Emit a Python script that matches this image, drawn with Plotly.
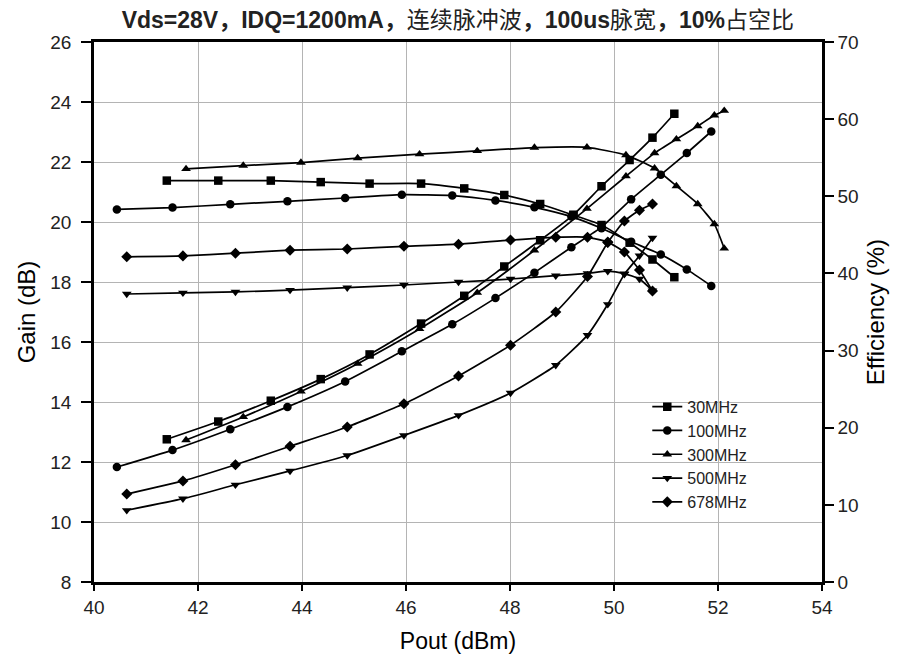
import plotly.graph_objects as go

# ---------------- data ----------------
labels = ["30MHz", "100MHz", "300MHz", "500MHz", "678MHz"]
symbols = ["square", "circle", "triangle-up", "triangle-down", "diamond"]

pout_30 = [41.40, 42.39, 43.40, 44.36, 45.30, 46.29, 47.12, 47.89, 48.58, 49.22, 49.76, 50.30, 50.74, 51.16]
gain_30 = [21.38, 21.38, 21.38, 21.33, 21.28, 21.28, 21.12, 20.90, 20.60, 20.23, 19.90, 19.31, 18.75, 18.16]
eff_30 = [18.5, 20.8, 23.5, 26.3, 29.5, 33.5, 37.1, 40.9, 44.3, 47.6, 51.3, 54.7, 57.6, 60.7]

pout_100 = [40.44, 41.51, 42.62, 43.72, 44.83, 45.92, 46.89, 47.72, 48.47, 49.18, 49.76, 50.33, 50.90, 51.40, 51.87]
gain_100 = [20.42, 20.48, 20.59, 20.69, 20.80, 20.91, 20.88, 20.72, 20.49, 20.18, 19.79, 19.34, 18.92, 18.42, 17.87]
eff_100 = [14.9, 17.1, 19.8, 22.7, 26.0, 29.9, 33.4, 36.8, 40.1, 43.4, 46.0, 49.6, 52.8, 55.6, 58.4]

pout_300 = [41.77, 42.87, 43.98, 45.07, 46.26, 47.37, 48.47, 49.48, 50.23, 50.78, 51.20, 51.61, 51.93, 52.12]
gain_300 = [21.77, 21.88, 21.98, 22.13, 22.26, 22.37, 22.48, 22.49, 22.23, 21.79, 21.20, 20.60, 19.93, 19.12]
eff_300 = [18.4, 21.4, 24.7, 28.3, 32.8, 37.5, 43.0, 48.4, 52.6, 55.6, 57.4, 59.1, 60.5, 61.1]

pout_500 = [40.63, 41.71, 42.72, 43.77, 44.87, 45.96, 47.01, 48.01, 48.88, 49.49, 49.88, 50.20, 50.49, 50.74]
gain_500 = [17.60, 17.64, 17.67, 17.73, 17.81, 17.90, 18.00, 18.10, 18.21, 18.29, 18.36, 18.28, 18.10, 17.71]
eff_500 = [9.3, 10.8, 12.6, 14.4, 16.4, 19.0, 21.6, 24.5, 28.1, 32.0, 36.0, 39.9, 42.3, 44.6]

pout_678 = [40.63, 41.71, 42.72, 43.77, 44.87, 45.96, 47.01, 48.01, 48.88, 49.49, 49.88, 50.20, 50.49, 50.74]
gain_678 = [18.84, 18.87, 18.96, 19.06, 19.10, 19.19, 19.26, 19.40, 19.49, 19.49, 19.33, 19.00, 18.40, 17.70]
eff_678 = [11.4, 13.1, 15.2, 17.6, 20.1, 23.1, 26.7, 30.7, 35.0, 39.6, 44.0, 46.8, 48.2, 49.0]

pouts = [pout_30, pout_100, pout_300, pout_500, pout_678]
gains = [gain_30, gain_100, gain_300, gain_500, gain_678]
effs = [eff_30, eff_100, eff_300, eff_500, eff_678]

x_ticks = [40, 42, 44, 46, 48, 50, 52, 54]
gain_ticks = [8, 10, 12, 14, 16, 18, 20, 22, 24, 26]
eff_ticks = [0, 10, 20, 30, 40, 50, 60, 70]

title_text = ("<b>Vds=28V，IDQ=1200mA，</b>连续脉冲波<b>，100us</b>脉宽"
              "<b>，10%</b>占空比")

# ---------------- figure ----------------
FONT = "Liberation Sans, Arial, Noto Sans CJK SC, sans-serif"
fig = go.Figure()

for lab, sym, px, g, e in zip(labels, symbols, pouts, gains, effs):
    fig.add_trace(go.Scatter(
        x=px, y=g, name=lab, legendgroup=lab, showlegend=True,
        mode="lines+markers",
        line=dict(color="black", width=1.7, shape="spline", smoothing=0.5),
        marker=dict(symbol=sym, size=8.5, color="black"),
        yaxis="y"))
    fig.add_trace(go.Scatter(
        x=px, y=e, name=lab, legendgroup=lab, showlegend=False,
        mode="lines+markers",
        line=dict(color="black", width=1.7, shape="spline", smoothing=0.5),
        marker=dict(symbol=sym, size=8.5, color="black"),
        yaxis="y2"))

fig.update_layout(
    width=888, height=648,
    margin=dict(l=86, r=74, t=34, b=74, autoexpand=False),
    paper_bgcolor="white", plot_bgcolor="white",
    font=dict(family=FONT, size=19, color="black"),
    title=dict(text=title_text, x=0.5066, xanchor="center",
               y=1 - 12 / 648, yanchor="middle",
               font=dict(family=FONT, size=23, color="#222")),
    xaxis=dict(range=[40, 54], tickvals=x_ticks, ticks="outside", ticklen=6,
               tickwidth=2, tickcolor="black", automargin=False,
               showgrid=True, gridcolor="#b4b4b4", gridwidth=1,
               showline=True, linecolor="black", linewidth=2.5, mirror=True,
               zeroline=False,
               title=dict(text="Pout (dBm)", font=dict(size=23), standoff=17),
               tickfont=dict(size=19, color="#222")),
    yaxis=dict(range=[8, 26], tickvals=gain_ticks, ticks="outside", ticklen=10,
               tickwidth=2, tickcolor="black", automargin=False,
               ticklabelstandoff=6,
               showgrid=True, gridcolor="#b4b4b4", gridwidth=1,
               showline=True, linecolor="black", linewidth=2.5, mirror=True,
               zeroline=False,
               title=dict(text="Gain (dB)", font=dict(size=24), standoff=8),
               tickfont=dict(size=19, color="#222")),
    yaxis2=dict(range=[0, 70], tickvals=eff_ticks, overlaying="y", side="right",
                ticks="outside", ticklen=9, tickwidth=2, tickcolor="black",
                automargin=False,
                showgrid=False, showline=True, linecolor="black", linewidth=2.5,
                zeroline=False,
                title=dict(text="Efficiency (%)", font=dict(size=24), standoff=10),
                tickfont=dict(size=19, color="#222")),
    legend=dict(x=0.760, y=0.356, xanchor="left", yanchor="top",
                bgcolor="rgba(255,255,255,0)", borderwidth=0,
                font=dict(size=16, color="#222"), tracegroupgap=0,
                itemwidth=30),
    showlegend=True,
)

fig.write_html("out.html")
